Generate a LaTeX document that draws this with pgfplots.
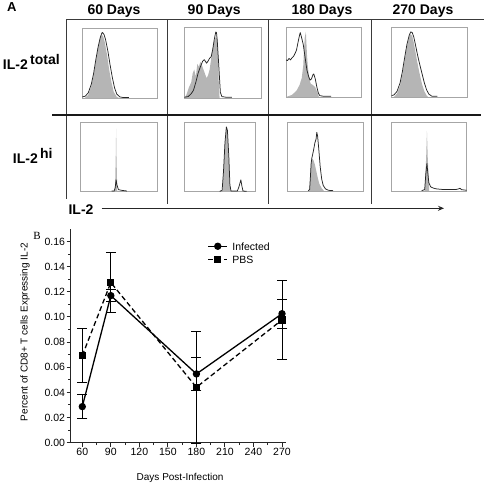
\documentclass[border=0pt]{standalone}
\usepackage{pgfplots}
\pgfplotsset{compat=1.18}
\usepackage{fontspec}
\setmainfont{Liberation Sans}
\newfontfamily\serifB{Liberation Serif}
\usetikzlibrary{arrows.meta}
\definecolor{histfill}{HTML}{B5B5B5}
\definecolor{gridline}{HTML}{3A3A3A}
\pgfplotsset{
 hist/.style={scale only axis, anchor=south west, xmin=0,xmax=100,ymin=0,ymax=100,
   ticks=none, axis line style={draw=black!35, line width=0.6pt}, clip=true},
 fillc/.style={fill=histfill, draw=none, mark=none},
 blk/.style={draw=black!85, line width=0.75pt, mark=none, line join=round},
}
\begin{document}
\begin{tikzpicture}[x=1pt,y=1pt]
\path[use as bounding box] (0,0) rectangle (484,488);

% ---------- Panel A frame ----------
\node[anchor=base west, font=\bfseries\fontsize{13}{15}\selectfont, inner sep=0pt] at (7,476.3) {A};
\foreach \cx/\t in {114/60 Days, 214.2/90 Days, 322/180 Days, 423/270 Days}
  \node[anchor=base, font=\bfseries\fontsize{14}{16}\selectfont, inner sep=0pt] at (\cx,473) {\t};
\draw[gridline, line width=1pt] (66,468.7) -- (484,468.7);
\draw[gridline, line width=1pt] (66,468.7) -- (66,289);
\foreach \vx in {167,268,371} \draw[gridline, line width=1pt] (\vx,468.7) -- (\vx,284);
\draw[black!90, line width=2pt] (52,373) -- (481,373);
\draw[black!85, line width=1pt, -{Stealth[length=6pt,width=5pt]}] (101.7,279.7) -- (444,279.7);
\node[anchor=base, font=\bfseries\fontsize{14}{16}\selectfont, inner sep=0pt] at (81,273) {IL-2};
\node[anchor=base west, font=\bfseries\fontsize{14}{16}\selectfont, inner sep=0pt] at (2.7,418.7) {IL-2\,\raisebox{4.5pt}{total}};
\node[anchor=base west, font=\bfseries\fontsize{14}{16}\selectfont, inner sep=0pt] at (12.7,324) {IL-2\,\raisebox{5.5pt}{hi}};

% ---------- Row 1 histograms ----------
\begin{axis}[hist, at={(82.3pt,389.7pt)}, width=75pt, height=70pt]
\addplot[fillc] coordinates {(3,0)(8,5)(12,17)(15,32)(18,52)(21,72)(24,86)(26,91)(28,88)(30,80)(33,62)(36,40)(39,22)(42,9)(46,2)(50,0)} \closedcycle;
\addplot[blk] coordinates {(0,2)(4,3)(8,8)(12,20)(15,35)(18,55)(21,73)(24,87)(26,93)(27,94)(29,91)(31,84)(34,68)(37,48)(40,30)(43,15)(46,6)(50,2)(55,1)(62,1)};
\end{axis}
\begin{axis}[hist, at={(184.3pt,390pt)}, width=76.7pt, height=71pt]
\addplot[fillc] coordinates {(0,0)(3,5)(6,15)(9,22)(11,35)(13,40)(15,30)(17,48)(19,44)(21,51)(23,46)(25,40)(27,34)(29,28)(31,32)(33,40)(35,55)(37,70)(39,80)(41,86)(43,84)(44,60)(45,20)(46,0)} \closedcycle;
\addplot[blk] coordinates {(0,1)(5,2)(9,6)(12,11)(15,22)(18,35)(21,44)(24,52)(26,54)(28,51)(29,49)(31,52)(33,56)(35,58)(37,68)(39,82)(41,93)(42,92)(43,80)(45,45)(47,8)(49,2)(55,1)(62,1)};
\end{axis}
\begin{axis}[hist, at={(286pt,391pt)}, width=75pt, height=70pt]
\addplot[fillc] coordinates {(0,0)(8,3)(14,9)(18,17)(21,27)(23,45)(24,67)(25,85)(26.5,93)(28,60)(29,45)(31,25)(33,19)(36,17)(39,14)(42,6)(44,0)} \closedcycle;
\addplot[blk] coordinates {(0,53)(2,52)(4,55)(6,53)(8,56)(10,58)(12,62)(14,67)(16,78)(18,88)(19,92)(20,88)(21,84)(23,75)(25,60)(27,45)(28,38)(30,30)(32,24)(34,26)(36,32)(37,33)(39,26)(41,15)(43,6)(45,2)(50,1)(60,1)};
\end{axis}
\begin{axis}[hist, at={(391.7pt,391pt)}, width=76pt, height=70pt]
\addplot[fillc] coordinates {(3,0)(7,5)(11,16)(14,32)(17,52)(20,72)(23,86)(25,90)(27,87)(29,78)(31,66)(34,48)(37,32)(40,18)(43,8)(46,2)(48,0)} \closedcycle;
\addplot[blk] coordinates {(0,2)(3,3)(7,8)(11,20)(14,36)(17,56)(20,75)(23,88)(25,93)(27,92)(29,86)(31,76)(34,60)(37,46)(40,33)(43,20)(46,10)(49,4)(53,1)(60,1)};
\end{axis}

% ---------- Row 2 histograms ----------
\begin{axis}[hist, at={(80.7pt,296.3pt)}, width=77pt, height=69.4pt]
\addplot[fillc] coordinates {(44.5,0)(45.5,50)(46,91)(46.5,50)(47.5,0)} \closedcycle;
\addplot[blk] coordinates {(40,1)(43.5,1)(44.8,6)(46,17)(47,10)(49,3)(53,2)(60,1)};
\end{axis}
\begin{axis}[hist, at={(184.3pt,296.3pt)}, width=70.7pt, height=69.7pt]
\addplot[fillc] coordinates {(54,0)(55.5,28)(57.5,68)(59.5,90)(61,85)(63,45)(64.5,5)(65.5,0)} \closedcycle;
\addplot[blk] coordinates {(50,0.5)(53.5,2)(55.5,30)(57.5,70)(59.5,93)(61,88)(63,50)(64.5,10)(66,1)(75,1)(77,6)(80,17)(81.5,8)(83,1)(88,0.5)};
\end{axis}
\begin{axis}[hist, at={(287.7pt,297pt)}, width=75.6pt, height=69pt]
\addplot[fillc] coordinates {(28.5,0)(30,20)(31,40)(32,47)(34,45)(36,38)(38,28)(40,18)(42,10)(45,4)(48,0)} \closedcycle;
\addplot[blk] coordinates {(27,0.5)(29,2)(30,20)(31,40)(32,48)(34,58)(36,70)(37.5,75)(38.5,85)(39.5,80)(41,62)(43,35)(45,17)(47,8)(50,3)(54,1)(60,0.5)};
\end{axis}
\begin{axis}[hist, at={(391.7pt,297pt)}, width=75pt, height=69pt]
\addplot[fillc] coordinates {(44,0)(46,50)(47,87)(48,50)(50,0)} \closedcycle;
\addplot[blk] coordinates {(40,0.5)(44,2)(45.5,25)(47,40)(48,28)(49.5,12)(52,6)(56,4)(60,3)(70,2)(85,2)(89,3)(91,4)(93,2)(100,1)};
\end{axis}

% ---------- Panel B ----------
\node[anchor=base west, font=\serifB\fontsize{11}{13}\selectfont, inner sep=0pt] at (33.3,248.7) {B};
\begin{axis}[
  scale only axis, anchor=south west, at={(70.7pt,45.3pt)},
  width=215.3pt, height=213.7pt,
  xmin=47.8, xmax=274.2, ymin=0, ymax=0.17,
  axis x line*=bottom, axis y line*=left,
  axis line style={-, line width=1.1pt, black!85},
  tick align=outside, major tick length=4pt, minor tick length=2.5pt,
  tick style={line width=1pt, black!85},
  xtick={60,90,120,150,180,210,240,270}, minor x tick num=1,
  ytick={0,0.02,0.04,0.06,0.08,0.10,0.12,0.14,0.16}, minor y tick num=1,
  /pgf/number format/assume math mode=true,
  yticklabel style={/pgf/number format/.cd, fixed, fixed zerofill, precision=2},
  scaled y ticks=false,
  ticklabel style={font=\fontsize{10.5}{12}\selectfont, inner sep=1.5pt},
  xlabel={Days Post-Infection},
  ylabel={Percent of CD8+ T cells Expressing IL-2},
  label style={font=\fontsize{10.5}{12}\selectfont},
  every axis x label/.style={at={(axis description cs:0.508,-0.165)}, anchor=center},
  every axis y label/.style={at={(axis description cs:-0.212,0.518)}, anchor=center, rotate=90},
  legend style={draw=none, fill=none, at={(0.635,0.945)}, anchor=north west,
     font=\fontsize{10.5}{12}\selectfont, row sep=3pt, inner sep=0pt,
     nodes={inner sep=1.5pt, text depth=0pt}},
  legend image code/.code={\draw[mark repeat=2, mark phase=2, #1] plot coordinates {(0pt,0pt)(9.5pt,0pt)(19pt,0pt)};},
  legend cell align=left,
  clip=false,
]
\addplot[black, line width=1.3pt, mark=*, mark size=3pt, mark options={solid},
  error bars/.cd, y dir=both, y explicit,
  error bar style={line width=0.9pt, solid},
  error mark options={rotate=90, mark size=5pt, line width=0.9pt, solid}]
  coordinates {(60,0.0287) +- (0,0.0095) (90,0.1170) +- (0,0.005) (180,0.0547) +- (0,0.0128) (270,0.1026) +- (0,0.0115)};
\addlegendentry{\hspace{3pt}Infected}
\addplot[black, line width=1.3pt, dash pattern=on 5pt off 3pt, mark=square*, mark size=3pt, mark options={solid},
  error bars/.cd, y dir=both, y explicit,
  error bar style={line width=0.9pt, solid},
  error mark options={rotate=90, mark size=5pt, line width=0.9pt, solid}]
  coordinates {(60,0.0693) +- (0,0.0217) (90,0.1274) +- (0,0.024) (180,0.0441) +- (0,0.0443) (270,0.0977) +- (0,0.0312)};
\addlegendentry{\hspace{3pt}PBS}
\end{axis}
\end{tikzpicture}
\end{document}
